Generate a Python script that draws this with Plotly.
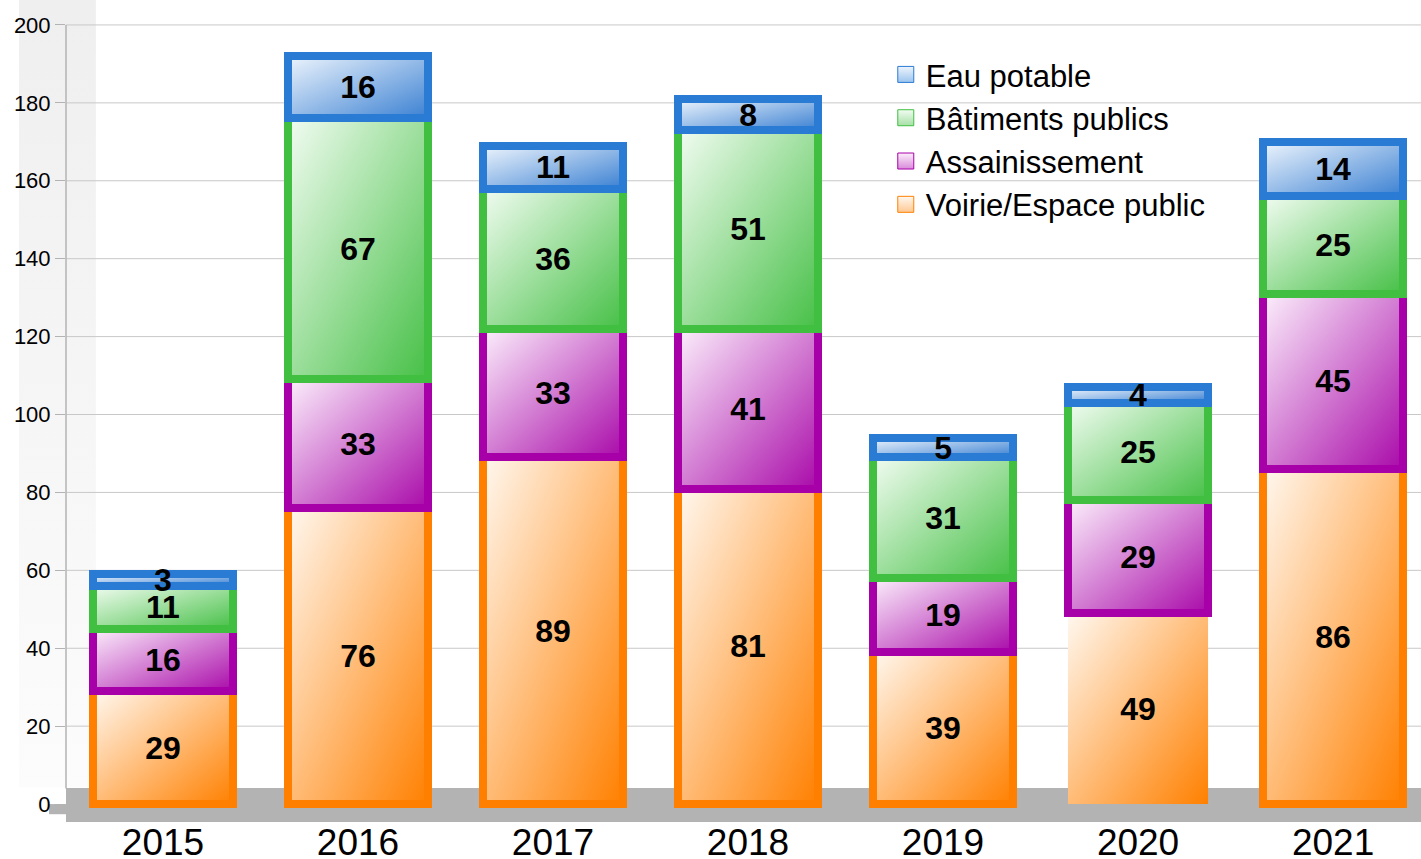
import base64
import plotly.graph_objects as go

# ---------------- data ----------------
years = [2015, 2016, 2017, 2018, 2019, 2020, 2021]
year_labels = ["2015", "2016", "2017", "2018", "2019", "2020", "2021"]
voirie = [29, 76, 89, 81, 39, 49, 86]
assainissement = [16, 33, 33, 41, 19, 29, 45]
batiments = [11, 67, 36, 51, 31, 25, 25]
eau = [3, 16, 11, 8, 5, 4, 14]
series_names = ["Voirie/Espace public", "Assainissement", "Bâtiments publics", "Eau potable"]
y_ticks = [0, 20, 40, 60, 80, 100, 120, 140, 160, 180, 200]

# ---------------- styles ----------------
series_values = [voirie, assainissement, batiments, eau]
border_colors = ["#ff8000", "#a800a8", "#40bf40", "#2a7bd3"]
grad_start = ["#fff8f0", "#fcf0fc", "#f2fcf2", "#eef5fd"]
grad_end = ["#ff8000", "#a90aa9", "#46c046", "#3a80d2"]
legend_light = ["#ffc891", "#d98ad9", "#a6e0a6", "#9cc4ee"]
# 2020 "Voirie" segment is drawn without border in the reference
line_widths = [[8, 8, 8, 8, 8, 0, 8], [8] * 7, [8] * 7, [8] * 7]
BAR_W = 0.72
FONT = "Liberation Sans, Arial, sans-serif"
GRID = "#c8c8c8"


def grad_uri(c0, c1, x2=1, y2=1):
    svg = ("<svg xmlns='http://www.w3.org/2000/svg' width='100' height='100' "
           "viewBox='0 0 100 100' preserveAspectRatio='none'><defs>"
           f"<linearGradient id='g' x1='0' y1='0' x2='{x2}' y2='{y2}'>"
           f"<stop offset='0' stop-color='{c0}'/><stop offset='1' stop-color='{c1}'/>"
           "</linearGradient></defs><rect width='100' height='100' fill='url(#g)'/></svg>")
    return "data:image/svg+xml;base64," + base64.b64encode(svg.encode()).decode()


fig = go.Figure()
images = []
base = [0] * len(years)
for s, vals in enumerate(series_values):
    uri = grad_uri(grad_start[s], grad_end[s])
    for i, v in enumerate(vals):
        images.append(dict(source=uri, xref="x", yref="y",
                           x=years[i] - BAR_W / 2, y=base[i] + v,
                           sizex=BAR_W, sizey=v, xanchor="left", yanchor="top",
                           sizing="stretch", layer="below"))
    base = [b + v for b, v in zip(base, vals)]
    fig.add_trace(go.Bar(
        x=years, y=vals, width=BAR_W, name=series_names[s], showlegend=False,
        marker=dict(color="rgba(0,0,0,0)",
                    line=dict(color=border_colors[s], width=line_widths[s])),
        text=[str(v) for v in vals], textposition="inside",
        insidetextanchor="middle", constraintext="none", textangle=0,
        insidetextfont=dict(family=FONT, size=32, color="black", weight="bold"),
        hoverinfo="skip",
    ))

# legend entries
for s in range(4):
    fig.add_trace(go.Scatter(
        x=[None], y=[None], mode="markers", name=series_names[s],
        marker=dict(symbol="square", size=16, color=grad_start[s],
                    gradient=dict(type="vertical", color=legend_light[s]),
                    line=dict(color=border_colors[s], width=1)),
    ))

# left wall gradient
images.append(dict(source=grad_uri("#efefef", "#fcfcfc", 0, 1), xref="paper", yref="paper",
                   x=-0.0347, y=1.03, sizex=0.0568, sizey=0.987,
                   xanchor="left", yanchor="top", sizing="stretch", layer="below"))

shapes = []
for t in y_ticks:
    shapes.append(dict(type="line", xref="paper", yref="y", x0=0, x1=1, y0=t, y1=t,
                       line=dict(color=GRID, width=1), layer="below"))
# floor
shapes.append(dict(type="rect", xref="paper", yref="y", x0=0, x1=1, y0=-4.6, y1=4.1,
                   fillcolor="#b3b3b3", line=dict(width=0), layer="below"))
shapes.append(dict(type="rect", xref="paper", yref="y", x0=-0.0125, x1=0, y0=-2.6, y1=0,
                   fillcolor="#b3b3b3", line=dict(width=0), layer="below"))
# y axis line
shapes.append(dict(type="line", xref="paper", yref="y", x0=0, x1=0, y0=4, y1=200,
                   line=dict(color="#b3b3b3", width=1.5), layer="below"))

fig.update_layout(
    width=1421, height=859,
    margin=dict(l=66, r=0, t=23, b=37, autoexpand=False),
    paper_bgcolor="white", plot_bgcolor="rgba(0,0,0,0)",
    barmode="stack",
    font=dict(family=FONT, color="black"),
    images=images, shapes=shapes,
    showlegend=True,
    legend=dict(x=0.605, y=0.969, xanchor="left", yanchor="top",
                bgcolor="rgba(0,0,0,0)", traceorder="reversed",
                font=dict(family=FONT, size=31, color="black")),
    xaxis=dict(range=[2014.5026, 2021.451], tickvals=years, ticktext=year_labels,
               showgrid=False, zeroline=False, showline=False, ticks="",
               automargin=False, ticklabelstandoff=-5,
               tickfont=dict(family=FONT, size=37, color="black")),
    yaxis=dict(range=[-4.6, 200.5], tickvals=y_ticks, showgrid=False, zeroline=False,
               showline=False, ticks="outside", ticklen=10, tickcolor="#b3b3b3",
               tickwidth=1, automargin=False,
               tickfont=dict(family=FONT, size=22, color="black")),
)

fig.write_html("out.html", config={"displayModeBar": False},
               post_script="document.body.style.margin='0';document.body.style.overflow='hidden';")
